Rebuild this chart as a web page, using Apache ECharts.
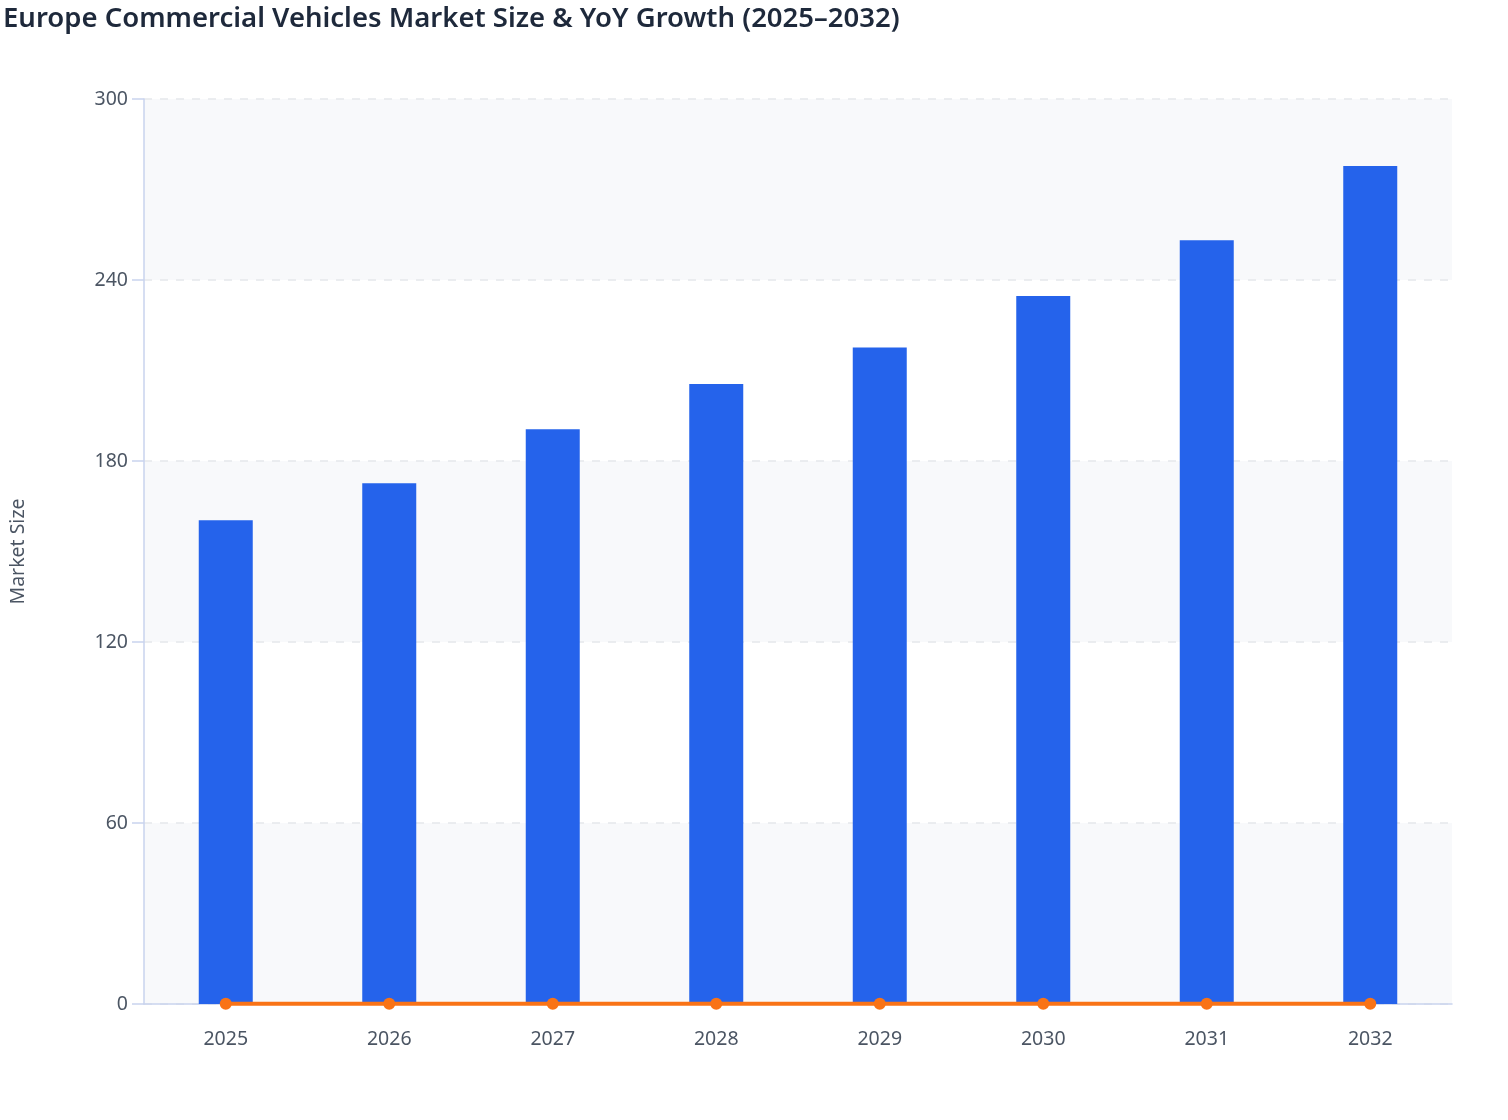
<!DOCTYPE html>
<html>
<head>
<meta charset="utf-8">
<title>Europe Commercial Vehicles Market Size & YoY Growth</title>
<script src="https://cdn.jsdelivr.net/npm/echarts@6/dist/echarts.min.js"></script>
<style>
  html, body { margin: 0; padding: 0; background: #ffffff; }
  #chart { width: 1508px; height: 1120px; }
</style>
</head>
<body>
<div id="chart"></div>
<script>
// data
const years = ["2025", "2026", "2027", "2028", "2029", "2030", "2031", "2032"];
const marketSize = [160.4, 172.6, 190.5, 205.5, 217.6, 234.7, 253.2, 277.8];
const yoyGrowth = [0.07, 0.076, 0.104, 0.079, 0.059, 0.079, 0.079, 0.097];
const yTicks = { min: 0, max: 300, interval: 60 };

const textColor = "#4b5563";
const axisColor = "#c9d3ee";

const chart = echarts.init(document.getElementById("chart"));

chart.setOption({
  animation: false,
  textStyle: { fontFamily: "Noto Sans" },
  title: {
    text: "Europe Commercial Vehicles Market Size & YoY Growth (2025–2032)",
    left: -2,
    top: 0,
    textStyle: {
      fontFamily: "Noto Sans",
      fontSize: 27.5,
      fontWeight: 600,
      color: "#1e293b"
    }
  },
  grid: { left: 144, right: 56, top: 99, bottom: 116 },
  xAxis: {
    type: "category",
    data: years,
    axisLine: { lineStyle: { color: axisColor, width: 1.5 } },
    axisTick: { alignWithLabel: true, length: 8, lineStyle: { color: axisColor, width: 1.5 } },
    axisLabel: { color: textColor, fontSize: 19.5, margin: 25 }
  },
  yAxis: {
    type: "value",
    min: yTicks.min,
    max: yTicks.max,
    interval: yTicks.interval,
    name: "Market Size",
    nameLocation: "middle",
    nameGap: 116,
    nameTextStyle: { color: textColor, fontSize: 19.5 },
    axisLine: { show: true, lineStyle: { color: axisColor, width: 1.5 } },
    axisTick: { show: true, length: 12, lineStyle: { color: axisColor, width: 1.5 } },
    axisLabel: { color: textColor, fontSize: 19.5, margin: 16 },
    splitLine: { lineStyle: { color: "#e5e7eb", type: [8, 8], width: 1.5 } },
    splitArea: { show: true, areaStyle: { color: ["#f8f9fb", "#ffffff"] } }
  },
  series: [
    {
      name: "Market Size",
      type: "bar",
      data: marketSize,
      barWidth: 54,
      itemStyle: { color: "#2563eb" }
    },
    {
      name: "YoY Growth",
      type: "line",
      data: yoyGrowth,
      symbol: "circle",
      symbolSize: 12,
      lineStyle: { color: "#f97316", width: 4 },
      itemStyle: { color: "#f97316" }
    }
  ]
});

window.addEventListener("resize", () => chart.resize());
</script>
</body>
</html>
